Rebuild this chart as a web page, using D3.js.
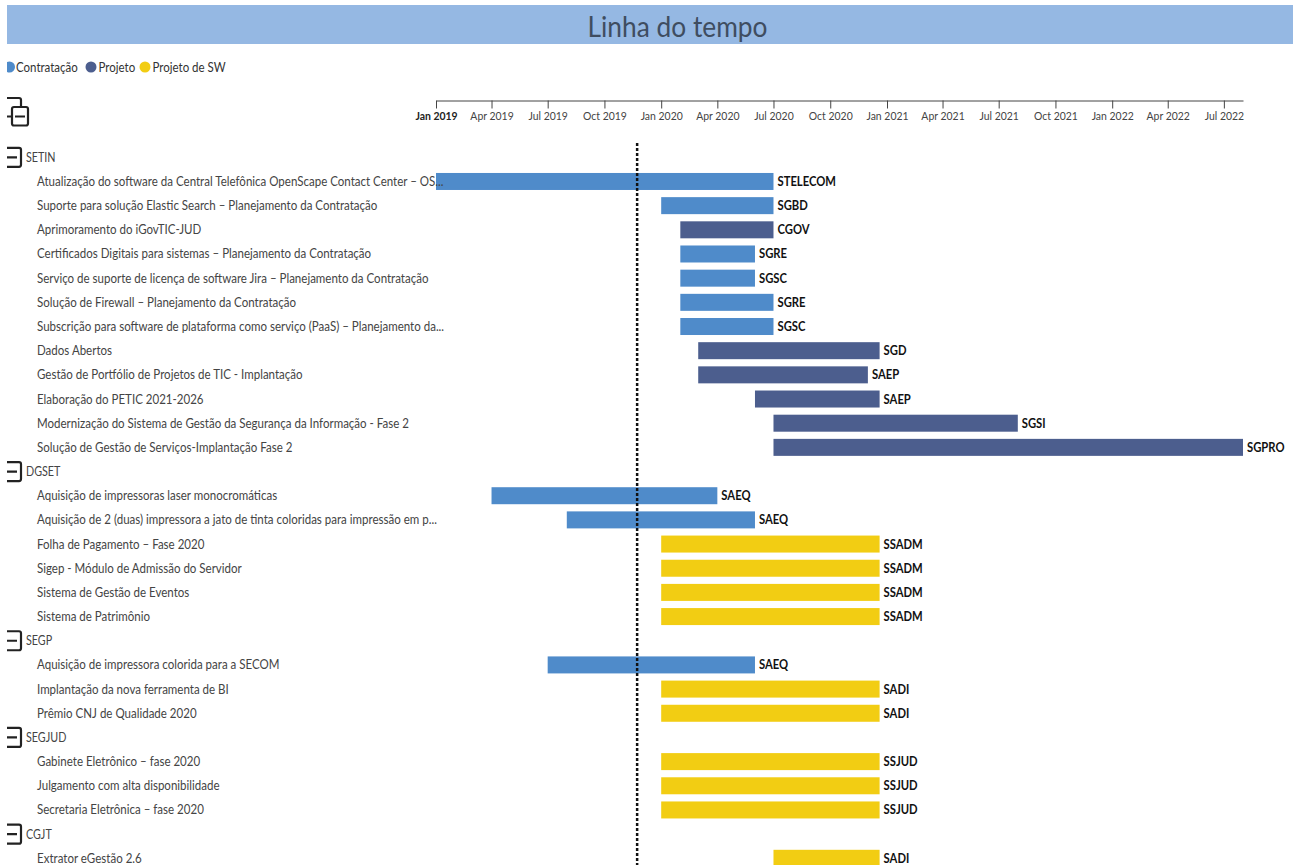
<!DOCTYPE html>
<html>
<head>
<meta charset="utf-8">
<script src="https://cdn.jsdelivr.net/npm/d3@7"></script>
<style>
  html, body { margin: 0; padding: 0; background: #fff; }
  svg { display: block; font-family: Lato, sans-serif; }
  .domain, .tick line { stroke: #444; }
</style>
</head>
<body>
<svg width="1293" height="865"></svg>
<script>
// legend
var typeNames = ['Contratação', 'Projeto', 'Projeto de SW'];
var typeColors = ['#4f8bca', '#4c5e8e', '#f2cd13'];

// rows, top to bottom. group rows have no bar
var rowNames = ['SETIN',
  'Atualização do software da Central Telefônica OpenScape Contact Center – OS...',
  'Suporte para solução Elastic Search – Planejamento da Contratação',
  'Aprimoramento do iGovTIC-JUD',
  'Certificados Digitais para sistemas – Planejamento da Contratação',
  'Serviço de suporte de licença de software Jira – Planejamento da Contratação',
  'Solução de Firewall – Planejamento da Contratação',
  'Subscrição para software de plataforma como serviço (PaaS) – Planejamento da...',
  'Dados Abertos',
  'Gestão de Portfólio de Projetos de TIC - Implantação',
  'Elaboração do PETIC 2021-2026',
  'Modernização do Sistema de Gestão da Segurança da Informação - Fase 2',
  'Solução de Gestão de Serviços-Implantação Fase 2',
  'DGSET',
  'Aquisição de impressoras laser monocromáticas',
  'Aquisição de 2 (duas) impressora a jato de tinta coloridas para impressão em p...',
  'Folha de Pagamento – Fase 2020',
  'Sigep - Módulo de Admissão do Servidor',
  'Sistema de Gestão de Eventos',
  'Sistema de Patrimônio',
  'SEGP',
  'Aquisição de impressora colorida para a SECOM',
  'Implantação da nova ferramenta de BI',
  'Prêmio CNJ de Qualidade 2020',
  'SEGJUD',
  'Gabinete Eletrônico – fase 2020',
  'Julgamento com alta disponibilidade',
  'Secretaria Eletrônica – fase 2020',
  'CGJT',
  'Extrator eGestão 2.6'];

var rowTypes = [null, 0, 0, 1, 0, 0, 0, 0, 1, 1, 1, 1, 1,
  null, 0, 0, 2, 2, 2, 2,
  null, 0, 2, 2,
  null, 2, 2, 2,
  null, 2];

var rowStarts = [null, '2019-01-01', '2020-01-01', '2020-02-01', '2020-02-01', '2020-02-01', '2020-02-01', '2020-02-01', '2020-03-01', '2020-03-01', '2020-06-01', '2020-07-01', '2020-07-01',
  null, '2019-04-01', '2019-08-01', '2020-01-01', '2020-01-01', '2020-01-01', '2020-01-01',
  null, '2019-07-01', '2020-01-01', '2020-01-01',
  null, '2020-01-01', '2020-01-01', '2020-01-01',
  null, '2020-07-01'];

var rowEnds = [null, '2020-07-01', '2020-07-01', '2020-07-01', '2020-06-01', '2020-06-01', '2020-07-01', '2020-07-01', '2020-12-20', '2020-12-01', '2020-12-20', '2021-08-01', '2022-08-01',
  null, '2020-04-01', '2020-06-01', '2020-12-20', '2020-12-20', '2020-12-20', '2020-12-20',
  null, '2020-06-01', '2020-12-20', '2020-12-20',
  null, '2020-12-20', '2020-12-20', '2020-12-20',
  null, '2020-12-20'];

var rowOwners = [null, 'STELECOM', 'SGBD', 'CGOV', 'SGRE', 'SGSC', 'SGRE', 'SGSC', 'SGD', 'SAEP', 'SAEP', 'SGSI', 'SGPRO',
  null, 'SAEQ', 'SAEQ', 'SSADM', 'SSADM', 'SSADM', 'SSADM',
  null, 'SAEQ', 'SADI', 'SADI',
  null, 'SSJUD', 'SSJUD', 'SSJUD',
  null, 'SADI'];

var today = '2019-11-23';
var axisStart = '2019-01-01';
var axisEnd = '2022-08-01';

var svg = d3.select('svg');
var parse = d3.utcParse('%Y-%m-%d');

var x = d3.scaleUtc()
  .domain([parse(axisStart), parse(axisEnd)])
  .range([436, 1243]);

var y = d3.scalePoint()
  .domain(d3.range(rowNames.length))
  .range([157.3, 858.3]);

// Lato is wider than the original font, so the texts get squeezed a bit
function squeeze(px, py, sx) {
  return 'translate(' + [px, py] + ') scale(' + sx + ',1)';
}

// title band
svg.append('rect')
  .attr('x', 7).attr('y', 5)
  .attr('width', 1286).attr('height', 39)
  .attr('fill', '#95b8e3');
svg.append('text')
  .attr('transform', squeeze(677.5, 37, 0.94))
  .attr('text-anchor', 'middle')
  .attr('font-size', 28)
  .attr('fill', '#3f4d60')
  .text('Linha do tempo');

// clip so the icons and the first legend dot are cut at the left, as in the original
var defs = svg.append('defs');
defs.append('clipPath').attr('id', 'left-cut')
  .append('rect').attr('x', 7).attr('y', 0).attr('width', 1286).attr('height', 865);

// legend
var legendX = [9.5, 91, 145];
var legend = svg.append('g').attr('clip-path', 'url(#left-cut)')
  .selectAll('.legend')
  .data(typeNames)
  .enter()
  .append('g')
  .attr('class', 'legend')
  .attr('transform', function(d, i) {
    return 'translate(' + [legendX[i], 67] + ')';
  });
legend.append('circle')
  .attr('r', 5.5)
  .attr('fill', function(d, i) { return typeColors[i]; });
legend.append('text')
  .attr('transform', function(d, i) { return squeeze(i == 0 ? 6.5 : 7.5, 4.5, 0.92); })
  .attr('font-size', 12.5)
  .attr('fill', '#333')
  .text(function(d) { return d; });

// collapse all icon
var iconTop = svg.append('g')
  .attr('clip-path', 'url(#left-cut)')
  .attr('fill', 'none')
  .attr('stroke', '#222')
  .attr('stroke-width', 2.2);
iconTop.append('path').attr('d', 'M6,98H19a2,2 0 0 1 2,2V107');
iconTop.append('rect').attr('x', 12).attr('y', 107).attr('width', 16).attr('height', 18.5).attr('rx', 2);
iconTop.append('path').attr('d', 'M15,116.5H25M6,116.5H12');

// axis
var axis = d3.axisBottom(x)
  .ticks(d3.utcMonth.every(3))
  .tickFormat(d3.utcFormat('%b %Y'))
  .tickSize(8)
  .tickPadding(3)
  .tickSizeOuter(0);
var axisG = svg.append('g')
  .attr('transform', 'translate(0,100.5)')
  .call(axis);
axisG.selectAll('text')
  .attr('font-family', 'Lato, sans-serif')
  .attr('font-size', 12)
  .attr('fill', function(d, i) { return i == 0 ? '#222' : '#444'; })
  .attr('transform', 'scale(0.87,1)')
  .attr('font-weight', function(d, i) { return i == 0 ? 'bold' : null; });

// rows
var rows = svg.selectAll('.row')
  .data(rowNames)
  .enter()
  .append('g')
  .attr('class', 'row')
  .attr('transform', function(d, i) {
    return 'translate(0,' + y(i) + ')';
  });

var groupRows = rows.filter(function(d, i) { return rowTypes[i] === null; });
defs.append('clipPath').attr('id', 'icon-cut')
  .append('rect').attr('x', 7).attr('y', -15).attr('width', 20).attr('height', 30);
var groupIcon = groupRows.append('g')
  .attr('clip-path', 'url(#icon-cut)')
  .attr('fill', 'none')
  .attr('stroke', '#222')
  .attr('stroke-width', 2.2);
groupIcon.append('rect').attr('x', 2).attr('y', -9.5).attr('width', 19).attr('height', 19).attr('rx', 2);
groupIcon.append('path').attr('d', 'M7,0H17');

var barRows = rows.filter(function(d, i) { return rowTypes[i] !== null; });
barRows.append('rect')
  .attr('x', function(d) { return x(parse(rowStarts[rowNames.indexOf(d)])); })
  .attr('y', -8.5)
  .attr('width', function(d) {
    var i = rowNames.indexOf(d);
    return x(parse(rowEnds[i])) - x(parse(rowStarts[i]));
  })
  .attr('height', 17)
  .attr('fill', function(d) { return typeColors[rowTypes[rowNames.indexOf(d)]]; });
barRows.append('text')
  .attr('transform', function(d) {
    return squeeze(x(parse(rowEnds[rowNames.indexOf(d)])) + 4, 4.5, 0.9);
  })
  .attr('font-size', 12.5)
  .attr('font-weight', 'bold')
  .attr('fill', '#111')
  .text(function(d) { return rowOwners[rowNames.indexOf(d)]; });

// labels go after the bars, the first one runs a little over its bar
rows.append('text')
  .attr('transform', function(d, i) {
    return rowTypes[i] === null ? squeeze(26, 4.5, 0.86) : squeeze(37, 4.5, 0.923);
  })
  .attr('font-size', 12.5)
  .attr('fill', '#444')
  .text(function(d) { return d; });

// today line
svg.append('line')
  .attr('x1', x(parse(today))).attr('x2', x(parse(today)))
  .attr('y1', 143).attr('y2', 865)
  .attr('stroke', '#111')
  .attr('stroke-width', 2.5)
  .attr('stroke-dasharray', '3,2');
</script>
</body>
</html>
